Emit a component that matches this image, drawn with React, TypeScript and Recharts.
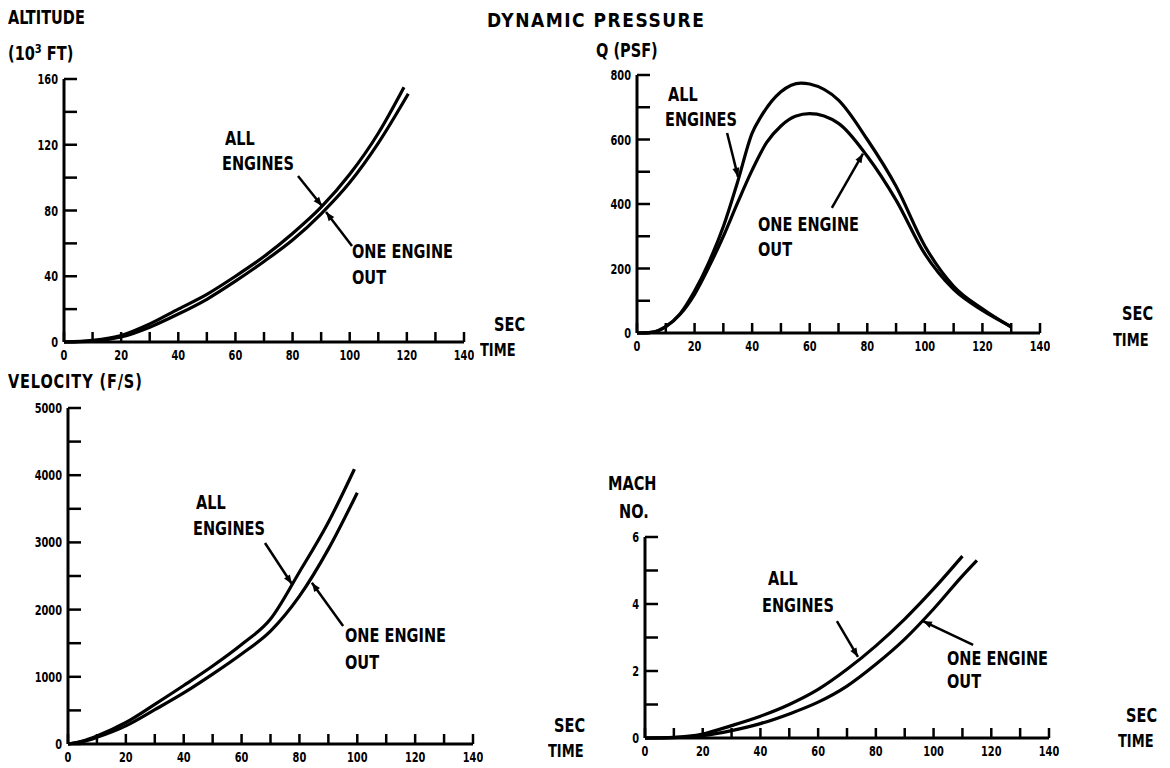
import React from 'react';
import { LineChart, Line, XAxis, YAxis, ReferenceLine } from 'recharts';

// time axis, seconds
const timeTicks = [0, 10, 20, 30, 40, 50, 60, 70, 80, 90, 100, 110, 120, 130, 140];

// altitude, 10^3 ft
const altTimeAll = [0, 10, 20, 30, 40, 50, 60, 70, 80, 90, 100, 110, 119];
const altAll = [0, 1, 4, 11, 20, 29, 40, 52, 66, 82, 102, 127, 155];
const altTimeOut = [0, 10, 20, 30, 40, 50, 60, 70, 80, 90, 100, 110, 120.5];
const altOut = [0, 0.5, 3, 9, 17, 26, 37, 49, 62, 78, 97, 121, 151];
const altTicks = [0, 20, 40, 60, 80, 100, 120, 140, 160];

// dynamic pressure, psf
const qTimeAll = [0, 5, 10, 15, 20, 25, 30, 35, 40, 43, 50, 57, 60, 70, 80, 90, 100, 110, 120, 130];
const qAll = [0, 2, 20, 60, 130, 220, 330, 470, 620, 670, 748, 775, 772, 722, 600, 455, 270, 145, 75, 18];
const qTimeOut = [0, 5, 10, 15, 20, 25, 30, 35, 40, 45, 50, 55, 60, 70, 80, 90, 100, 110, 120, 130];
const qOut = [0, 2, 20, 58, 120, 205, 300, 405, 505, 590, 642, 672, 680, 650, 548, 412, 245, 135, 70, 20];
const qTicks = [0, 100, 200, 300, 400, 500, 600, 700, 800];

// velocity, ft/s
const velTimeAll = [0, 5, 10, 20, 30, 40, 50, 60, 70, 80, 90, 99];
const velAll = [0, 45, 120, 320, 590, 870, 1160, 1480, 1860, 2560, 3300, 4090];
const velTimeOut = [0, 5, 10, 20, 30, 40, 50, 60, 70, 80, 90, 100];
const velOut = [0, 35, 100, 270, 510, 760, 1040, 1340, 1680, 2200, 2900, 3740];
const velTicks = [0, 500, 1000, 1500, 2000, 2500, 3000, 3500, 4000, 4500, 5000];

// mach number
const machTimeAll = [0, 10, 20, 30, 40, 50, 60, 70, 80, 90, 100, 110];
const machAll = [0, 0.02, 0.12, 0.37, 0.65, 1.0, 1.45, 2.05, 2.75, 3.55, 4.45, 5.43];
const machTimeOut = [0, 10, 20, 30, 40, 50, 60, 70, 80, 90, 100, 110, 115];
const machOut = [0, 0.01, 0.07, 0.22, 0.43, 0.72, 1.07, 1.55, 2.2, 2.95, 3.85, 4.84, 5.3];
const machTicks = [0, 1, 2, 3, 4, 5, 6];

const zip = (t: number[], v: number[]) => t.map((x, i) => ({ t: x, v: v[i] }));

const FONT = "'DejaVu Sans Condensed', 'Liberation Sans Narrow', sans-serif";
const tickFont: React.CSSProperties = { fontFamily: FONT, fontWeight: 700, fontSize: 14, fill: '#000' };

// narrow tick label: squeeze horizontally like the lettering in the original
const TickText = ({ x, y, anchor, children }: { x: number; y: number; anchor: 'middle' | 'end'; children: React.ReactNode }) => (
  <text transform={`translate(${x},${y}) scale(0.78,1)`} textAnchor={anchor} style={tickFont}>
    {children}
  </text>
);

const XTick = (p: any) => {
  const { x, y, payload } = p;
  const v = payload.value;
  return (
    <g>
      <line x1={x} x2={x} y1={y} y2={y - 10} stroke="#000" strokeWidth={2.5} />
      {v % 20 === 0 && (
        <TickText x={x} y={y + 18} anchor="middle">
          {v}
        </TickText>
      )}
    </g>
  );
};

const makeYTick = (labelEvery: number) => (p: any) => {
  const { x, y, payload } = p;
  const v = payload.value;
  return (
    <g>
      <line x1={x} x2={x + 13} y1={y} y2={y} stroke="#000" strokeWidth={2.5} />
      {v % labelEvery === 0 && (
        <TickText x={x - 6} y={y + 5} anchor="end">
          {v}
        </TickText>
      )}
    </g>
  );
};

// annotation pointer with a small head at the curve end
const Arrow = (p: any) => {
  const { x1, y1, x2, y2 } = p;
  const a = Math.atan2(y2 - y1, x2 - x1);
  const len = 9;
  const w = 3.5;
  const bx = x2 - len * Math.cos(a);
  const by = y2 - len * Math.sin(a);
  const px = -Math.sin(a) * w;
  const py = Math.cos(a) * w;
  return (
    <g>
      <line x1={x1} y1={y1} x2={x2} y2={y2} stroke="#000" strokeWidth={2.5} />
      <polygon points={`${x2},${y2} ${bx + px},${by + py} ${bx - px},${by - py}`} fill="#000" />
    </g>
  );
};

type Pointer = { t1: number; v1: number; t2: number; v2: number };

type PanelProps = {
  left: number;
  top: number;
  width: number;
  height: number;
  yMax: number;
  yTicks: number[];
  labelEvery: number;
  all: { t: number; v: number }[];
  out: { t: number; v: number }[];
  pointers: Pointer[];
};

const Panel = ({ left, top, width, height, yMax, yTicks, labelEvery, all, out, pointers }: PanelProps) => (
  <div style={{ position: 'absolute', left, top }}>
    <LineChart width={width} height={height} margin={{ top: 19, right: 10, bottom: 0, left: 0 }}>
      <XAxis
        dataKey="t"
        type="number"
        domain={[0, 140]}
        ticks={timeTicks}
        interval={0}
        tickSize={0}
        tickMargin={0}
        tick={XTick}
        height={24}
        axisLine={{ stroke: '#000', strokeWidth: 3 }}
      />
      <YAxis
        type="number"
        domain={[0, yMax]}
        ticks={yTicks}
        interval={0}
        tickSize={0}
        tickMargin={0}
        tick={makeYTick(labelEvery)}
        width={40}
        axisLine={{ stroke: '#000', strokeWidth: 3 }}
      />
      <Line data={all} dataKey="v" type="monotone" stroke="#000" strokeWidth={3.2} dot={false} isAnimationActive={false} />
      <Line data={out} dataKey="v" type="monotone" stroke="#000" strokeWidth={3.2} dot={false} isAnimationActive={false} />
      {pointers.map((a, i) => (
        <ReferenceLine
          key={i}
          segment={[
            { x: a.t1, y: a.v1 },
            { x: a.t2, y: a.v2 },
          ]}
          shape={Arrow}
          ifOverflow="visible"
        />
      ))}
    </LineChart>
  </div>
);

const Txt = ({
  x,
  y,
  size = 19,
  spacing = 0,
  squeeze = 0.85,
  children,
}: {
  x: number;
  y: number;
  size?: number;
  spacing?: number;
  squeeze?: number;
  children: React.ReactNode;
}) => (
  <div
    style={{
      position: 'absolute',
      left: x,
      top: y,
      fontFamily: FONT,
      fontWeight: 700,
      fontSize: size,
      lineHeight: 1,
      letterSpacing: spacing,
      whiteSpace: 'nowrap',
      color: '#000',
      transform: `scaleX(${squeeze})`,
      transformOrigin: 'left top',
    }}
  >
    {children}
  </div>
);

export default function App() {
  return (
    <div style={{ position: 'relative', width: 1170, height: 768, overflow: 'hidden', background: '#fff' }}>
      <style>{'body{margin:0}'}</style>

      {/* altitude */}
      <Panel
        left={24}
        top={60}
        width={450}
        height={306}
        yMax={160}
        yTicks={altTicks}
        labelEvery={40}
        all={zip(altTimeAll, altAll)}
        out={zip(altTimeOut, altOut)}
        pointers={[
          { t1: 81.9, v1: 101, t2: 90.3, v2: 82.7 },
          { t1: 100.8, v1: 58.4, t2: 91.7, v2: 79.1 },
        ]}
      />
      <Txt x={8} y={8}>ALTITUDE</Txt>
      <Txt x={8} y={42}>
        (10<span style={{ fontSize: 13, verticalAlign: 'super' }}>3</span> FT)
      </Txt>
      <Txt x={225} y={129}>ALL</Txt>
      <Txt x={222} y={154}>ENGINES</Txt>
      <Txt x={352} y={242}>ONE ENGINE</Txt>
      <Txt x={352} y={268}>OUT</Txt>
      <Txt x={494} y={315}>SEC</Txt>
      <Txt x={480} y={342} size={17}>TIME</Txt>

      {/* dynamic pressure */}
      <Panel
        left={597}
        top={56}
        width={453}
        height={301}
        yMax={800}
        yTicks={qTicks}
        labelEvery={200}
        all={zip(qTimeAll, qAll)}
        out={zip(qTimeOut, qOut)}
        pointers={[
          { t1: 31.3, v1: 620, t2: 35.1, v2: 484 },
          { t1: 67.7, v1: 388, t2: 78.5, v2: 556 },
        ]}
      />
      <Txt x={487} y={11} spacing={1.5} squeeze={1}>DYNAMIC PRESSURE</Txt>
      <Txt x={596} y={41}>Q (PSF)</Txt>
      <Txt x={668} y={85}>ALL</Txt>
      <Txt x={665} y={110}>ENGINES</Txt>
      <Txt x={758} y={215}>ONE ENGINE</Txt>
      <Txt x={758} y={240}>OUT</Txt>
      <Txt x={1122} y={304}>SEC</Txt>
      <Txt x={1113} y={332} size={17}>TIME</Txt>

      {/* velocity */}
      <Panel
        left={28}
        top={389}
        width={455}
        height={379}
        yMax={5000}
        yTicks={velTicks}
        labelEvery={1000}
        all={zip(velTimeAll, velAll)}
        out={zip(velTimeOut, velOut)}
        pointers={[
          { t1: 68.1, v1: 2991, t2: 77.4, v2: 2381 },
          { t1: 95.1, v1: 1756, t2: 84.3, v2: 2400 },
        ]}
      />
      <Txt x={8} y={372} spacing={1}>VELOCITY (F/S)</Txt>
      <Txt x={196} y={493}>ALL</Txt>
      <Txt x={193} y={519}>ENGINES</Txt>
      <Txt x={345} y={626}>ONE ENGINE</Txt>
      <Txt x={345} y={653}>OUT</Txt>
      <Txt x={554} y={716}>SEC</Txt>
      <Txt x={548} y={743} size={17}>TIME</Txt>

      {/* mach number */}
      <Panel
        left={605}
        top={518}
        width={454}
        height={244}
        yMax={6}
        yTicks={machTicks}
        labelEvery={2}
        all={zip(machTimeAll, machAll)}
        out={zip(machTimeOut, machOut)}
        pointers={[
          { t1: 66.5, v1: 3.49, t2: 73.8, v2: 2.42 },
          { t1: 113.7, v1: 2.78, t2: 96.3, v2: 3.49 },
        ]}
      />
      <Txt x={608} y={474}>MACH</Txt>
      <Txt x={619} y={502}>NO.</Txt>
      <Txt x={768} y={569}>ALL</Txt>
      <Txt x={762} y={596}>ENGINES</Txt>
      <Txt x={947} y={649}>ONE ENGINE</Txt>
      <Txt x={947} y={672}>OUT</Txt>
      <Txt x={1126} y={706}>SEC</Txt>
      <Txt x={1118} y={733} size={17}>TIME</Txt>
    </div>
  );
}
